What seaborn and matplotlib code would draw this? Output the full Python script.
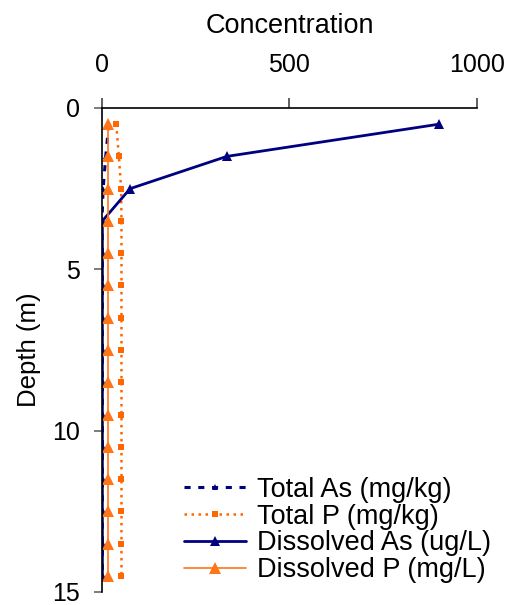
import matplotlib
matplotlib.use("Agg")
import matplotlib.pyplot as plt
import seaborn as sns
import pandas as pd
import numpy as np

depth = [0.5, 1.5, 2.5, 3.5, 4.5, 5.5, 6.5, 7.5, 8.5, 9.5, 10.5, 11.5, 12.5, 13.5, 14.5]
total_as = [18, 10, 3, 0, 1, 1, 1, 1, 1, 1, 1, 1, 1, 1, 1]
total_p = [38, 45, 51, 52, 52, 52, 52, 52, 52, 52, 52, 52, 52, 52, 52]
dissolved_as = [900, 333, 75, 1, 1, 1, 1, 1, 1, 1, 1, 1, 1, 1, 1]
dissolved_p = [17, 17, 17, 17, 17, 17, 17, 17, 17, 17, 17, 17, 17, 17, 17]

df = pd.DataFrame({"Depth": depth, "Total As": total_as, "Total P": total_p,
                   "Dissolved As": dissolved_as, "Dissolved P": dissolved_p})

sns.set_style("ticks")
plt.rcParams['font.family'] = ['Liberation Sans', 'DejaVu Sans']
plt.rcParams['text.color'] = 'black'
plt.rcParams['axes.labelcolor'] = 'black'
plt.rcParams['xtick.labelcolor'] = 'black'
plt.rcParams['ytick.labelcolor'] = 'black'

fig = plt.figure(figsize=(5.1, 6.05), dpi=100)
ax = fig.add_axes([0.2, 0.0215, 0.735, 0.8])

navy = "#000080"
orange = "#FF6600"

sns.lineplot(data=df, x="Total As", y="Depth", orient="y", sort=False, estimator=None, ax=ax,
             color=navy, lw=2.2, linestyle=(0, (2, 2.5)), marker="^", markersize=5,
             markeredgewidth=0, label="Total As (mg/kg)")
sns.lineplot(data=df, x="Total P", y="Depth", orient="y", sort=False, estimator=None, ax=ax,
             color=orange, lw=1.8, linestyle=(0, (1, 1.8)), marker="s", markersize=5,
             markeredgewidth=0, label="Total P (mg/kg)")
sns.lineplot(data=df, x="Dissolved As", y="Depth", orient="y", sort=False, estimator=None, ax=ax,
             color=navy, lw=2, marker="^", markersize=7, markeredgewidth=0,
             label="Dissolved As (ug/L)")
sns.lineplot(data=df, x="Dissolved P", y="Depth", orient="y", sort=False, estimator=None, ax=ax,
             color="#FF7518", lw=1.2, marker="^", markersize=8, markeredgewidth=0,
             label="Dissolved P (mg/L)")

ax.set_xlim(0, 1000)
ax.set_ylim(15, 0)
ax.set_xticks([0, 500, 1000])
ax.set_yticks([0, 5, 10, 15])
ax.xaxis.tick_top()
ax.xaxis.set_label_position("top")
ax.spines["right"].set_visible(False)
ax.spines["bottom"].set_visible(False)
for side in ["top", "left"]:
    ax.spines[side].set_linewidth(1.2)
    ax.spines[side].set_color("black")
ax.tick_params(axis="x", labelsize=18, length=7, width=1.2, pad=15, color="#444444")
ax.tick_params(axis="y", labelsize=18, length=6, width=1.2, pad=10, color="#666666")
ax.set_xlabel("Concentration", fontsize=19.5, labelpad=15)
ax.set_ylabel("Depth (m)", fontsize=18.5, labelpad=8)

ax.legend(loc="upper left", bbox_to_anchor=(0.36, 0.212), bbox_transform=fig.transFigure,
          frameon=False, fontsize=19.5, handlelength=2.3, handletextpad=0.4,
          labelspacing=0.03, borderpad=0, borderaxespad=0)

fig.savefig("out.png", dpi=100)
